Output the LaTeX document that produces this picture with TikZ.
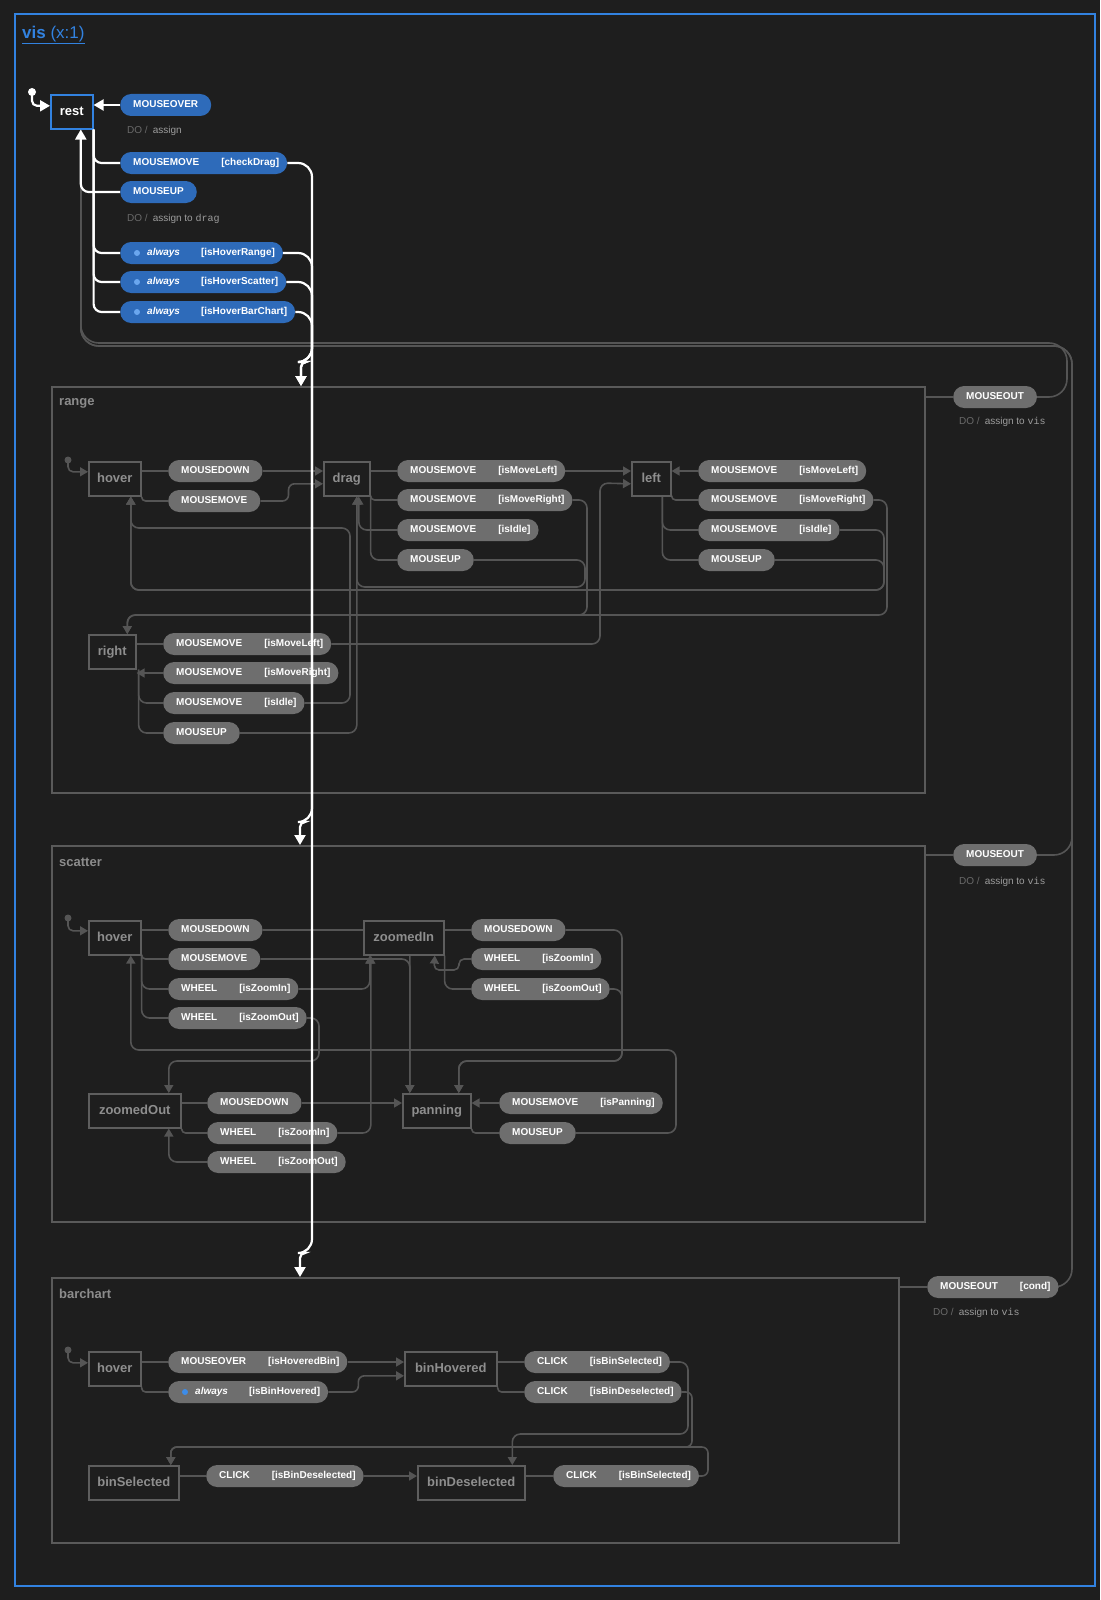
\documentclass[tikz,border=0pt]{standalone}
\usepackage{fontspec}
\setmainfont{Liberation Sans}
\setmonofont{Liberation Mono}
\usetikzlibrary{arrows.meta,backgrounds}

\definecolor{bgDark}{HTML}{1E1E1E}
\definecolor{visBlue}{HTML}{3282E0}
\definecolor{pillBlue}{HTML}{2E6BBA}
\definecolor{dotBlue}{HTML}{3D8CE8}
\definecolor{dotLight}{HTML}{6AA6EE}
\definecolor{pillGray}{HTML}{6E6E6E}
\definecolor{stateLine}{HTML}{5E5E5E}
\definecolor{stateText}{HTML}{8E8E8E}
\definecolor{regionLine}{HTML}{5A5A5A}
\definecolor{edgeGray}{HTML}{555555}
\definecolor{doDark}{HTML}{6A6A6A}
\definecolor{doLight}{HTML}{9C9C9C}
\definecolor{labelGray}{HTML}{8C8C8C}

\newcommand{\pillFont}{\fontsize{10}{12}\selectfont\bfseries}
\newcommand{\stateFont}{\fontsize{13}{15}\selectfont\bfseries}
\newcommand{\regionFont}{\fontsize{13}{15}\selectfont\bfseries}
\newcommand{\doFont}{\fontsize{10}{12}\selectfont}
\newcommand{\titleFont}{\fontsize{17}{20}\selectfont}

\newcommand{\evtOnly}[1]{\hspace*{13pt}#1\hspace*{13pt}}
\newcommand{\evtGuard}[2]{\hspace*{13pt}#1\hspace*{22pt}#2\hspace*{8pt}}
\newcommand{\evtAlways}[1]{\hspace*{27pt}\textit{always}\hspace*{21pt}#1\hspace*{8pt}}
\newcommand{\doLine}[1]{\textcolor{doDark}{DO /}\hspace{5pt}#1}

\tikzset{
	regionBox/.style={draw=regionLine, line width=2pt, anchor=north west, inner sep=0pt},
	stateBox/.style={draw=stateLine, line width=1.6pt, fill=bgDark, text=stateText, font=\stateFont,
		minimum height=34pt, anchor=north west, inner sep=0pt, text height=9.5pt, text depth=3pt},
	pill/.style={rounded corners=11pt, fill=pillGray, text=white, font=\pillFont, minimum height=22pt,
		anchor=west, inner sep=0pt, text height=7.5pt, text depth=2.5pt},
	activePill/.style={pill, fill=pillBlue},
	regionLabel/.style={anchor=west, text=labelGray, font=\regionFont, inner sep=0pt},
	doText/.style={anchor=west, text=doLight, font=\doFont, inner sep=0pt},
	grayEdge/.style={draw=edgeGray, line width=1.6pt, rounded corners=8pt},
	whiteEdge/.style={draw=white, line width=2.2pt, rounded corners=8pt},
	arrowEnd/.style={-{Triangle[length=8pt,width=9pt]}},
	bigArrowEnd/.style={-{Triangle[length=10pt,width=11pt]}}
}

\begin{document}
\begin{tikzpicture}[x=1pt,y=-1pt]
		
		\useasboundingbox (0,0) rectangle (1100,1600);
		\begin{scope}[on background layer]
		\fill[bgDark] (0,0) rectangle (1100,1600);
		\end{scope}
		
		%Vis
		\node (visBox) at (14,13) [regionBox, draw=visBlue, minimum width=1080pt, minimum height=1572pt]{};
		\node (visTitle) at (22,35) [anchor=west, inner sep=0pt, text=visBlue, font=\titleFont]{\underline{\textbf{vis} (x:1)}};
		
		%Rest
		\node (rest) at (50,94) [stateBox, draw=visBlue, text=white, minimum width=42pt]{rest};
		\coordinate (restInit) at (32,92);
		\node (restMouseOver) at (120,105) [activePill]{\evtOnly{MOUSEOVER}};
		\node (restDoAssign) at (127,131) [doText]{\doLine{assign}};
		\node (restCheckDrag) at (120,163) [activePill]{\evtGuard{MOUSEMOVE}{[checkDrag]}};
		\node (restMouseUp) at (120,192) [activePill]{\evtOnly{MOUSEUP}};
		\node (restDoDrag) at (127,219) [doText]{\doLine{assign to \texttt{drag}}};
		\node (restAlwaysRange) at (120,253) [activePill]{\evtAlways{[isHoverRange]}};
		\node (restAlwaysScatter) at (120,282) [activePill]{\evtAlways{[isHoverScatter]}};
		\node (restAlwaysBar) at (120,312) [activePill]{\evtAlways{[isHoverBarChart]}};
		\fill[dotLight] ([xshift=17pt]restAlwaysRange.west) circle (3pt);
		\fill[dotLight] ([xshift=17pt]restAlwaysScatter.west) circle (3pt);
		\fill[dotLight] ([xshift=17pt]restAlwaysBar.west) circle (3pt);
		
		%Range
		\node (rangeBox) at (51,386) [regionBox, minimum width=873pt, minimum height=406pt]{};
		\node (rangeLabel) at (59,403) [regionLabel]{range};
		\coordinate (rangeInit) at (68,460);
		\node (rangeHover) at (88,461) [stateBox, minimum width=52pt]{hover};
		\node (hvMouseDown) at (168,471) [pill]{\evtOnly{MOUSEDOWN}};
		\node (hvMouseMove) at (168,501) [pill]{\evtOnly{MOUSEMOVE}};
		\node (rangeDrag) at (323,461) [stateBox, minimum width=46pt]{drag};
		\node (dgMoveLeft) at (397,471) [pill]{\evtGuard{MOUSEMOVE}{[isMoveLeft]}};
		\node (dgMoveRight) at (397,500) [pill]{\evtGuard{MOUSEMOVE}{[isMoveRight]}};
		\node (dgIdle) at (397,530) [pill]{\evtGuard{MOUSEMOVE}{[isIdle]}};
		\node (dgMouseUp) at (397,560) [pill]{\evtOnly{MOUSEUP}};
		\node (rangeLeft) at (631,461) [stateBox, minimum width=39pt]{left};
		\node (lfMoveLeft) at (698,471) [pill]{\evtGuard{MOUSEMOVE}{[isMoveLeft]}};
		\node (lfMoveRight) at (698,500) [pill]{\evtGuard{MOUSEMOVE}{[isMoveRight]}};
		\node (lfIdle) at (698,530) [pill]{\evtGuard{MOUSEMOVE}{[isIdle]}};
		\node (lfMouseUp) at (698,560) [pill]{\evtOnly{MOUSEUP}};
		\node (rangeRight) at (88,634) [stateBox, minimum width=47pt]{right};
		\node (rtMoveLeft) at (163,644) [pill]{\evtGuard{MOUSEMOVE}{[isMoveLeft]}};
		\node (rtMoveRight) at (163,673) [pill]{\evtGuard{MOUSEMOVE}{[isMoveRight]}};
		\node (rtIdle) at (163,703) [pill]{\evtGuard{MOUSEMOVE}{[isIdle]}};
		\node (rtMouseUp) at (163,733) [pill]{\evtOnly{MOUSEUP}};
		\node (rangeOut) at (953,397) [pill]{\evtOnly{MOUSEOUT}};
		\node (rangeDoVis) at (959,422) [doText]{\doLine{assign to \texttt{vis}}};
		\fill[edgeGray] (rangeInit) circle (3.5pt);
		
		%Scatter
		\node (scatterBox) at (51,845) [regionBox, minimum width=873pt, minimum height=376pt]{};
		\node (scatterLabel) at (59,862) [regionLabel]{scatter};
		\coordinate (scatterInit) at (68,918);
		\node (scHover) at (88,920) [stateBox, minimum width=52pt]{hover};
		\node (shMouseDown) at (168,930) [pill]{\evtOnly{MOUSEDOWN}};
		\node (shMouseMove) at (168,959) [pill]{\evtOnly{MOUSEMOVE}};
		\node (shZoomIn) at (168,989) [pill]{\evtGuard{WHEEL}{[isZoomIn]}};
		\node (shZoomOut) at (168,1018) [pill]{\evtGuard{WHEEL}{[isZoomOut]}};
		\node (scZoomedIn) at (363,920) [stateBox, minimum width=80pt]{zoomedIn};
		\node (ziMouseDown) at (471,930) [pill]{\evtOnly{MOUSEDOWN}};
		\node (ziZoomIn) at (471,959) [pill]{\evtGuard{WHEEL}{[isZoomIn]}};
		\node (ziZoomOut) at (471,989) [pill]{\evtGuard{WHEEL}{[isZoomOut]}};
		\node (scZoomedOut) at (88,1093) [stateBox, minimum width=92pt]{zoomedOut};
		\node (zoMouseDown) at (207,1103) [pill]{\evtOnly{MOUSEDOWN}};
		\node (zoZoomIn) at (207,1133) [pill]{\evtGuard{WHEEL}{[isZoomIn]}};
		\node (zoZoomOut) at (207,1162) [pill]{\evtGuard{WHEEL}{[isZoomOut]}};
		\node (scPanning) at (402,1093) [stateBox, minimum width=68pt]{panning};
		\node (pnMove) at (499,1103) [pill]{\evtGuard{MOUSEMOVE}{[isPanning]}};
		\node (pnMouseUp) at (499,1133) [pill]{\evtOnly{MOUSEUP}};
		\node (scatterOut) at (953,855) [pill]{\evtOnly{MOUSEOUT}};
		\node (scatterDoVis) at (959,882) [doText]{\doLine{assign to \texttt{vis}}};
		\fill[edgeGray] (scatterInit) circle (3.5pt);
		
		%Barchart
		\node (barBox) at (51,1277) [regionBox, minimum width=847pt, minimum height=265pt]{};
		\node (barLabel) at (59,1294) [regionLabel]{barchart};
		\coordinate (barInit) at (68,1350);
		\node (bcHover) at (88,1351) [stateBox, minimum width=52pt]{hover};
		\node (hvOver) at (168,1362) [pill]{\evtGuard{MOUSEOVER}{[isHoveredBin]}};
		\node (hvAlways) at (168,1392) [pill]{\evtAlways{[isBinHovered]}};
		\node (bcBinHovered) at (404,1351) [stateBox, minimum width=92pt]{binHovered};
		\node (bhSelected) at (524,1362) [pill]{\evtGuard{CLICK}{[isBinSelected]}};
		\node (bhDeselected) at (524,1392) [pill]{\evtGuard{CLICK}{[isBinDeselected]}};
		\node (bcBinSelected) at (88,1465) [stateBox, minimum width=90pt]{binSelected};
		\node (bsDeselected) at (206,1476) [pill]{\evtGuard{CLICK}{[isBinDeselected]}};
		\node (bcBinDeselected) at (417,1465) [stateBox, minimum width=107pt]{binDeselected};
		\node (bdSelected) at (553,1476) [pill]{\evtGuard{CLICK}{[isBinSelected]}};
		\node (barOut) at (927,1287) [pill]{\evtGuard{MOUSEOUT}{[cond]}};
		\node (barDoVis) at (933,1313) [doText]{\doLine{assign to \texttt{vis}}};
		\fill[edgeGray] (barInit) circle (3.5pt);
		\fill[dotBlue] ([xshift=17pt]hvAlways.west) circle (3pt);
		
		%Gray transitions
		\begin{scope}[on background layer]
		\draw[grayEdge, arrowEnd, rounded corners=5pt] (rangeInit) |- ([yshift=7pt]rangeHover.west);
		\draw[grayEdge] (rangeHover.east |- hvMouseDown.west) -- (hvMouseDown.west);
		\draw[grayEdge, rounded corners=4pt] (rangeHover.south east) |- (hvMouseMove.west);
		\draw[grayEdge, arrowEnd] (hvMouseDown.east) -- (rangeDrag.west |- hvMouseDown.east);
		\draw[grayEdge, arrowEnd, rounded corners=6pt] (hvMouseMove.east) -- ++(28,0) |- ([yshift=-5pt]rangeDrag.west);
		\draw[grayEdge] (rangeDrag.east |- dgMoveLeft.west) -- (dgMoveLeft.west);
		\draw[grayEdge, rounded corners=4pt] (rangeDrag.south east) |- (dgMoveRight.west);
		\draw[grayEdge] (rangeDrag.south east) |- (dgMouseUp.west);
		\draw[grayEdge, arrowEnd] (dgMoveLeft.east) -- (rangeLeft.west |- dgMoveLeft.east);
		\draw[grayEdge, arrowEnd] (dgMoveRight.east) -| (587,615) -| ([xshift=15pt]rangeRight.north);
		\draw[grayEdge, arrowEnd] (dgIdle.west) -| ([xshift=12pt]rangeDrag.south);
		\draw[grayEdge, arrowEnd] (dgMouseUp.east) -| (585,587) -| ([xshift=10pt]rangeDrag.south);
		\draw[grayEdge, arrowEnd] (lfMoveLeft.west) -- (rangeLeft.east |- lfMoveLeft.west);
		\draw[grayEdge, rounded corners=4pt] (rangeLeft.south east) |- (lfMoveRight.west);
		\draw[grayEdge] ([xshift=11pt]rangeLeft.south) |- (lfIdle.west);
		\draw[grayEdge] ([xshift=11pt]rangeLeft.south) |- (lfMouseUp.west);
		\draw[grayEdge, arrowEnd] (lfMoveRight.east) -| (887,615) -| ([xshift=15pt]rangeRight.north);
		\draw[grayEdge, arrowEnd] (lfIdle.east) -| (884,590) -| ([xshift=16pt]rangeHover.south);
		\draw[grayEdge, arrowEnd] (lfMouseUp.east) -| (884,590) -| ([xshift=16pt]rangeHover.south);
		\draw[grayEdge] (rangeRight.east |- rtMoveLeft.west) -- (rtMoveLeft.west);
		\draw[grayEdge, arrowEnd] (rtMoveRight.west) -- (rangeRight.east |- rtMoveRight.west);
		\draw[grayEdge] ([xshift=2pt]rangeRight.south east) |- (rtIdle.west);
		\draw[grayEdge] ([xshift=2pt]rangeRight.south east) |- (rtMouseUp.west);
		\draw[grayEdge, arrowEnd] (rtMoveLeft.east) -| (600,483) -- ([yshift=-5pt]rangeLeft.west);
		\draw[grayEdge, arrowEnd] (rtIdle.east) -| (350,528) -| ([xshift=16pt]rangeHover.south);
		\draw[grayEdge, arrowEnd] (rtMouseUp.east) -| ([xshift=10pt]rangeDrag.south);
		\draw[grayEdge] (rangeBox.east |- rangeOut.west) -- (rangeOut.west);
		\draw[grayEdge, arrowEnd, rounded corners=18pt] (rangeOut.east) -| (1067,343) -| ([xshift=9pt]rest.south);
		
		\draw[grayEdge, arrowEnd, rounded corners=5pt] (scatterInit) |- ([yshift=7pt]scHover.west);
		\draw[grayEdge] (scHover.east |- shMouseDown.west) -- (shMouseDown.west);
		\draw[grayEdge, rounded corners=4pt] (scHover.south east) |- (shMouseMove.west);
		\draw[grayEdge] (scHover.south east) |- (shZoomIn.west);
		\draw[grayEdge] (scHover.south east) |- (shZoomOut.west);
		\draw[grayEdge, arrowEnd] (shMouseDown.east) -| ([xshift=-27pt]scPanning.north);
		\draw[grayEdge, arrowEnd] (shMouseMove.east) -| ([xshift=-27pt]scPanning.north);
		\draw[grayEdge, arrowEnd] (shZoomIn.east) -| ([xshift=-34pt]scZoomedIn.south);
		\draw[grayEdge, arrowEnd] (shZoomOut.east) -| (319,1061) -| ([xshift=34pt]scZoomedOut.north);
		\draw[grayEdge, arrowEnd] (pnMouseUp.east) -| (676,1050) -| ([xshift=16pt]scHover.south);
		\draw[grayEdge] (scZoomedIn.east |- ziMouseDown.west) -- (ziMouseDown.west);
		\draw[grayEdge] (scZoomedIn.south east) |- (ziZoomOut.west);
		\draw[grayEdge, arrowEnd, rounded corners=5pt] (ziZoomIn.west) -- ++(-12,0) |- (434,970) -- ([xshift=31pt]scZoomedIn.south);
		\draw[grayEdge, arrowEnd] (ziMouseDown.east) -| (622,1061) -| ([xshift=22pt]scPanning.north);
		\draw[grayEdge, arrowEnd] (ziZoomOut.east) -| (622,1061) -| ([xshift=22pt]scPanning.north);
		\draw[grayEdge] (scZoomedOut.east |- zoMouseDown.west) -- (zoMouseDown.west);
		\draw[grayEdge, rounded corners=4pt] (scZoomedOut.south east) |- (zoZoomIn.west);
		\draw[grayEdge, arrowEnd] (zoMouseDown.east) -- (scPanning.west |- zoMouseDown.east);
		\draw[grayEdge, arrowEnd] (zoZoomIn.east) -| ([xshift=-33pt]scZoomedIn.south);
		\draw[grayEdge, arrowEnd] (zoZoomOut.west) -| ([xshift=34pt]scZoomedOut.south);
		\draw[grayEdge, arrowEnd] (pnMove.west) -- (scPanning.east |- pnMove.west);
		\draw[grayEdge, rounded corners=4pt] (scPanning.south east) |- (pnMouseUp.west);
		\draw[grayEdge] (scatterBox.east |- scatterOut.west) -- (scatterOut.west);
		\draw[grayEdge, arrowEnd, rounded corners=18pt] (scatterOut.east) -| (1072,346) -| ([xshift=9pt]rest.south);
		
		\draw[grayEdge, arrowEnd, rounded corners=5pt] (barInit) |- ([yshift=6pt]bcHover.west);
		\draw[grayEdge] (bcHover.east |- hvOver.west) -- (hvOver.west);
		\draw[grayEdge, rounded corners=4pt] (bcHover.south east) |- (hvAlways.west);
		\draw[grayEdge, arrowEnd] (hvOver.east) -- (bcBinHovered.west |- hvOver.east);
		\draw[grayEdge, arrowEnd, rounded corners=6pt] (hvAlways.east) -- ++(30,0) |- ([yshift=-7pt]bcBinHovered.west);
		\draw[grayEdge] (bcBinHovered.east |- bhSelected.west) -- (bhSelected.west);
		\draw[grayEdge, rounded corners=4pt] (bcBinHovered.south east) |- (bhDeselected.west);
		\draw[grayEdge, arrowEnd] (bhSelected.east) -| (688,1434) -| ([xshift=41pt]bcBinDeselected.north);
		\draw[grayEdge, arrowEnd, rounded corners=6pt] (bhDeselected.east) -| (692,1447) -| ([xshift=37pt]bcBinSelected.north);
		\draw[grayEdge] (bcBinSelected.east |- bsDeselected.west) -- (bsDeselected.west);
		\draw[grayEdge, arrowEnd] (bsDeselected.east) -- (bcBinDeselected.west |- bsDeselected.east);
		\draw[grayEdge] (bcBinDeselected.east |- bdSelected.west) -- (bdSelected.west);
		\draw[grayEdge, arrowEnd, rounded corners=6pt] (bdSelected.east) -| (708,1447) -| ([xshift=37pt]bcBinSelected.north);
		\draw[grayEdge] (barBox.east |- barOut.west) -- (barOut.west);
		\draw[grayEdge, arrowEnd, rounded corners=18pt] (barOut.east) -| (1072,346) -| ([xshift=9pt]rest.south);
		\end{scope}
		
		%White transitions
		\fill[white] (restInit) circle (4pt);
		\draw[whiteEdge, bigArrowEnd, rounded corners=5pt] (restInit) |- ([yshift=6pt]rest.west);
		\draw[whiteEdge, bigArrowEnd] (restMouseOver.west) -- (rest.east |- restMouseOver.west);
		\draw[whiteEdge] (rest.south east) |- (restCheckDrag.west);
		\draw[whiteEdge] (rest.south east) |- (restAlwaysRange.west);
		\draw[whiteEdge] (rest.south east) |- (restAlwaysScatter.west);
		\draw[whiteEdge] (rest.south east) |- (restAlwaysBar.west);
		\draw[whiteEdge, bigArrowEnd] (restMouseUp.west) -| ([xshift=9pt]rest.south);
		\draw[whiteEdge, bigArrowEnd] (restCheckDrag.east) [rounded corners=14pt] -| (312,362) [rounded corners=5pt] -| ([xshift=250pt]rangeBox.north west);
		\draw[whiteEdge, bigArrowEnd] (restAlwaysRange.east) [rounded corners=14pt] -| (312,362) [rounded corners=5pt] -| ([xshift=250pt]rangeBox.north west);
		\draw[whiteEdge, bigArrowEnd] (restAlwaysScatter.east) [rounded corners=14pt] -| (312,822) [rounded corners=5pt] -| ([xshift=249pt]scatterBox.north west);
		\draw[whiteEdge, bigArrowEnd] (restAlwaysBar.east) [rounded corners=14pt] -| (312,1253) [rounded corners=5pt] -| ([xshift=249pt]barBox.north west);
		
		\end{tikzpicture}
\end{document}
